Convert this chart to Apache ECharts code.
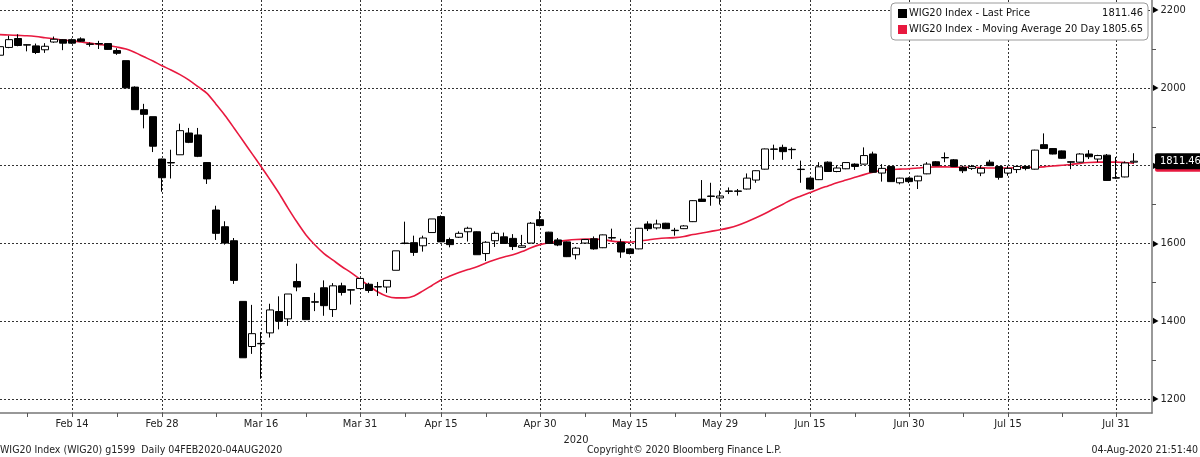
<!DOCTYPE html>
<html><head><meta charset="utf-8">
<script src="https://cdn.jsdelivr.net/npm/echarts@6/dist/echarts.min.js"></script>
<style>html,body{margin:0;padding:0;background:#fff}#c{width:1200px;height:457px}</style>
</head><body><div id="c"></div>
<script>
const dates = [
 'Feb 4','Feb 5','Feb 6','Feb 7','Feb 10','Feb 11','Feb 12','Feb 13','Feb 14','Feb 17','Feb 18','Feb 19','Feb 20','Feb 21','Feb 24','Feb 25','Feb 26','Feb 27','Feb 28',
 'Mar 2','Mar 3','Mar 4','Mar 5','Mar 6','Mar 9','Mar 10','Mar 11','Mar 12','Mar 13','Mar 16','Mar 17','Mar 18','Mar 19','Mar 20','Mar 23','Mar 24','Mar 25','Mar 26','Mar 27','Mar 30','Mar 31',
 'Apr 1','Apr 2','Apr 3','Apr 6','Apr 7','Apr 8','Apr 9','Apr 14','Apr 15','Apr 16','Apr 17','Apr 20','Apr 21','Apr 22','Apr 23','Apr 24','Apr 27','Apr 28','Apr 29','Apr 30',
 'May 4','May 5','May 6','May 7','May 8','May 11','May 12','May 13','May 14','May 15','May 18','May 19','May 20','May 21','May 22','May 25','May 26','May 27','May 28','May 29',
 'Jun 1','Jun 2','Jun 3','Jun 4','Jun 5','Jun 8','Jun 9','Jun 10','Jun 12','Jun 15','Jun 16','Jun 17','Jun 18','Jun 19','Jun 22','Jun 23','Jun 24','Jun 25','Jun 26','Jun 29','Jun 30',
 'Jul 1','Jul 2','Jul 3','Jul 6','Jul 7','Jul 8','Jul 9','Jul 10','Jul 13','Jul 14','Jul 15','Jul 16','Jul 17','Jul 20','Jul 21','Jul 22','Jul 23','Jul 24','Jul 27','Jul 28','Jul 29','Jul 30','Jul 31',
 'Aug 3','Aug 4'
];
const opens = [
 2084,2104,2127,2111,2108,2098,2118,2124,2124,2126,
 2113,2114,2114,2096,2070,2002,1944,1926,1817,1808,
 1828,1884,1879,1808,1686,1643,1607,1451,1335,1343,
 1370,1425,1406,1502,1461,1450,1486,1430,1491,1481,
 1484,1495,1489,1488,1531,1601,1602,1594,1628,1669,
 1610,1616,1630,1630,1574,1607,1617,1613,1590,1601,
 1661,1629,1609,1604,1571,1601,1612,1589,1615,1603,
 1586,1586,1650,1640,1652,1634,1638,1656,1714,1722,
 1717,1735,1735,1740,1763,1791,1843,1847,1842,1791,
 1768,1764,1809,1785,1792,1804,1804,1830,1781,1798,
 1756,1768,1761,1779,1810,1821,1815,1796,1793,1781,
 1809,1798,1781,1790,1798,1791,1854,1844,1838,1810,
 1809,1830,1817,1827,1769,1771,1809
];
const closes = [
 2106,2124,2109,2110,2091,2107,2125,2115,2115,2120,
 2112,2113,2099,2089,2000,1944,1932,1850,1769,1807,
 1890,1860,1824,1766,1626,1601,1505,1306,1368,1342,
 1429,1400,1470,1488,1404,1449,1440,1491,1474,1480,
 1510,1479,1488,1505,1581,1600,1577,1614,1663,1604,
 1597,1626,1639,1571,1603,1626,1600,1592,1594,1652,
 1646,1600,1596,1566,1588,1610,1586,1622,1614,1578,
 1574,1639,1638,1650,1638,1633,1645,1710,1708,1721,
 1722,1734,1734,1768,1787,1843,1842,1836,1841,1790,
 1740,1797,1785,1794,1808,1798,1826,1783,1793,1759,
 1768,1759,1773,1804,1800,1820,1798,1787,1798,1793,
 1800,1770,1793,1798,1793,1840,1844,1830,1819,1809,
 1830,1823,1826,1762,1768,1807,1811.46
];
const lows = [
 2080,2102,2107,2094,2087,2090,2116,2097,2113,2118,
 2106,2100,2098,2085,2000,1944,1896,1835,1733,1767,
 1828,1858,1822,1753,1609,1597,1496,1306,1316,1252,
 1358,1379,1388,1477,1404,1426,1414,1411,1466,1443,
 1483,1473,1465,1473,1531,1598,1568,1579,1628,1604,
 1590,1614,1605,1571,1555,1591,1599,1583,1589,1600,
 1644,1600,1593,1565,1559,1600,1584,1588,1608,1563,
 1572,1585,1632,1636,1637,1620,1637,1655,1707,1697,
 1700,1727,1723,1739,1756,1790,1815,1815,1817,1756,
 1739,1763,1784,1783,1791,1789,1803,1782,1759,1758,
 1752,1755,1740,1778,1799,1809,1797,1781,1789,1773,
 1799,1764,1774,1781,1788,1790,1843,1829,1818,1791,
 1808,1817,1809,1761,1766,1770,1806
];
const highs = [
 2110,2134,2138,2112,2114,2115,2132,2125,2127,2130,
 2117,2121,2115,2102,2070,2004,1959,1926,1818,1841,
 1908,1897,1897,1809,1697,1657,1614,1451,1442,1372,
 1445,1464,1470,1548,1461,1473,1505,1498,1499,1482,
 1511,1499,1501,1506,1581,1656,1620,1620,1663,1672,
 1615,1631,1643,1631,1606,1631,1628,1624,1622,1655,
 1683,1630,1614,1605,1591,1611,1618,1623,1638,1612,
 1587,1640,1657,1661,1653,1640,1647,1711,1763,1756,
 1736,1744,1740,1780,1788,1844,1854,1854,1847,1813,
 1769,1809,1811,1800,1809,1806,1847,1836,1804,1799,
 1769,1770,1774,1809,1812,1834,1817,1800,1802,1800,
 1815,1799,1800,1799,1800,1841,1883,1845,1839,1811,
 1832,1840,1828,1830,1822,1811,1832
];
const ma20 = [
 2137,2136,2135,2134,2132,2129,2126,2123,2121,2118,
 2115,2112,2109,2105,2100,2091,2080,2069,2057,2046,
 2034,2020,2003,1986,1958,1929,1897,1864,1831,1798,
 1764,1729,1691,1655,1622,1596,1574,1557,1540,1525,
 1508,1491,1475,1464,1460,1460,1465,1478,1492,1506,
 1516,1525,1533,1540,1550,1558,1565,1571,1579,1589,
 1597,1602,1605,1608,1610,1611,1611,1610,1606,1604,
 1603,1606,1609,1612,1614,1615,1618,1623,1627,1631,
 1635,1640,1647,1656,1666,1677,1689,1701,1713,1722,
 1731,1740,1748,1756,1763,1770,1777,1783,1788,1790,
 1791,1792,1794,1796,1797,1797,1796,1796,1796,1795,
 1794,1794,1794,1795,1796,1796,1797,1799,1801,1803,
 1806,1808,1809,1809,1809,1808,1805.65
];
const xTickLabels = ['Feb 14','Feb 28','Mar 16','Mar 31','Apr 15','Apr 30','May 15','May 29','Jun 15','Jun 30','Jul 15','Jul 31'];
const xMinorTicks = ['Feb 7','Feb 21','Mar 9','Mar 23','Apr 7','Apr 22','May 8','May 22','Jun 5','Jun 22','Jul 8','Jul 23'];
const yTicks = [1200,1400,1600,1800,2000,2200];
const seriesNames = ['WIG20 Index - Last Price','WIG20 Index - Moving Average 20 Day'];
const footerLeft = 'WIG20 Index (WIG20) g1599  Daily 04FEB2020-04AUG2020';
const footerMid = 'Copyright\u00a9 2020 Bloomberg Finance L.P.';
const footerRight = '04-Aug-2020 21:51:40';
const yearLabel = '2020';

const FONT = "Tahoma,'DejaVu Sans Condensed','Liberation Sans',sans-serif";
const RED = '#e8193f';
const lastClose = closes[closes.length - 1];
const lastMAv = ma20[ma20.length - 1];
const lastPrice = lastClose.toFixed(2);
const lastMA = lastMAv.toFixed(2);
const legendVals = {}; legendVals[seriesNames[0]] = lastPrice; legendVals[seriesNames[1]] = lastMA;

const labelSet = new Set(xTickLabels);
const tickSet = new Set(xTickLabels.concat(xMinorTicks));
const candles = dates.map((d, i) => [opens[i], closes[i], lows[i], highs[i]]);

const tagLabel = (txt, bg) => ({
  show: true, position: 'end', distance: 3, formatter: txt, color: '#fff', backgroundColor: bg,
  padding: [3, 3, 2, 5], borderRadius: 2, fontSize: 11, fontFamily: FONT
});

const chart = echarts.init(document.getElementById('c'), null, {renderer: 'canvas'});
chart.setOption({
  animation: false,
  backgroundColor: '#fff',
  textStyle: {fontFamily: FONT},
  grid: {left: 0, right: 48, top: 0, bottom: 44, containLabel: false},
  legend: {
    orient: 'vertical', right: 52, top: 3,
    backgroundColor: '#fff', borderColor: '#9a9a9a', borderWidth: 1, borderRadius: 4,
    padding: [5, 5, 5, 7], itemGap: 5, itemWidth: 9, itemHeight: 9,
    data: [
      {name: seriesNames[0], icon: 'rect', itemStyle: {color: '#000', borderColor: '#000', borderWidth: 0}},
      {name: seriesNames[1], icon: 'rect', itemStyle: {color: RED}}
    ],
    formatter: n => '{n|' + n + '}{v|' + legendVals[n] + '}',
    textStyle: {
      fontFamily: FONT, fontSize: 11, color: '#111', padding: [0, 0, 0, -3],
      rich: {n: {width: 192, fontSize: 11, fontFamily: FONT, color: '#111'},
             v: {width: 42, align: 'right', fontSize: 11, fontFamily: FONT, color: '#111'}}
    },
    selectedMode: false
  },
  xAxis: {
    type: 'category', data: dates, boundaryGap: false, max: 128,
    name: yearLabel, nameLocation: 'middle', nameGap: 19,
    nameTextStyle: {fontSize: 11, color: '#222', fontFamily: FONT},
    axisLine: {show: true, lineStyle: {color: '#777', width: 1.5}},
    axisTick: {show: true, length: 4, interval: (i, v) => tickSet.has(v), lineStyle: {color: '#555'}},
    axisLabel: {interval: (i, v) => labelSet.has(v), fontSize: 11, color: '#222', margin: 6, fontFamily: FONT},
    splitLine: {show: true, interval: (i, v) => labelSet.has(v), lineStyle: {type: [2, 2], color: '#333', width: 1}}
  },
  yAxis: {
    type: 'value', position: 'right', min: 1164, max: 2226,
    axisLine: {show: true, lineStyle: {color: '#777', width: 1.5}},
    axisTick: {show: true, customValues: yTicks, length: 0},
    minorTick: {show: true, splitNumber: 2, length: 4, lineStyle: {color: '#555'}},
    axisLabel: {customValues: yTicks, margin: 1, color: '#222', fontSize: 11, fontFamily: FONT,
      formatter: v => '{a|\u25B6}' + v,
      rich: {a: {fontSize: 8, color: '#000', padding: [0, 2, 0, 0]}}},
    splitLine: {show: true, lineStyle: {type: [2, 2], color: '#333', width: 1}}
  },
  graphic: [
    {type: 'text', left: 0, top: 445, style: {text: footerLeft, font: '10.5px ' + FONT, fill: '#222'}},
    {type: 'text', left: 587, top: 445, style: {text: footerMid, font: '10.5px ' + FONT, fill: '#222'}},
    {type: 'text', right: 2, top: 445, style: {text: footerRight, font: '10.5px ' + FONT, fill: '#222'}}
  ],
  series: [
    {
      name: seriesNames[0], type: 'candlestick', data: candles, barWidth: 7, z: 4,
      itemStyle: {color: '#fff', color0: '#000', borderColor: '#000', borderColor0: '#000', borderWidth: 1},
      markLine: {
        silent: true, symbol: ['none', 'none'], z: 20,
        lineStyle: {color: 'rgba(0,0,0,0)', width: 0},
        label: tagLabel(lastPrice, '#000'),
        data: [{yAxis: lastClose}]
      }
    },
    {
      name: seriesNames[1], type: 'line', data: ma20, showSymbol: false, smooth: 0.3,
      lineStyle: {color: RED, width: 1.6}, itemStyle: {color: RED}, z: 3,
      markLine: {
        silent: true, symbol: ['none', 'none'], z: 1,
        lineStyle: {color: 'rgba(0,0,0,0)', width: 0},
        label: tagLabel(lastPrice, RED),
        data: [{yAxis: lastMAv - 0.8}]
      }
    }
  ]
});
</script></body></html>
